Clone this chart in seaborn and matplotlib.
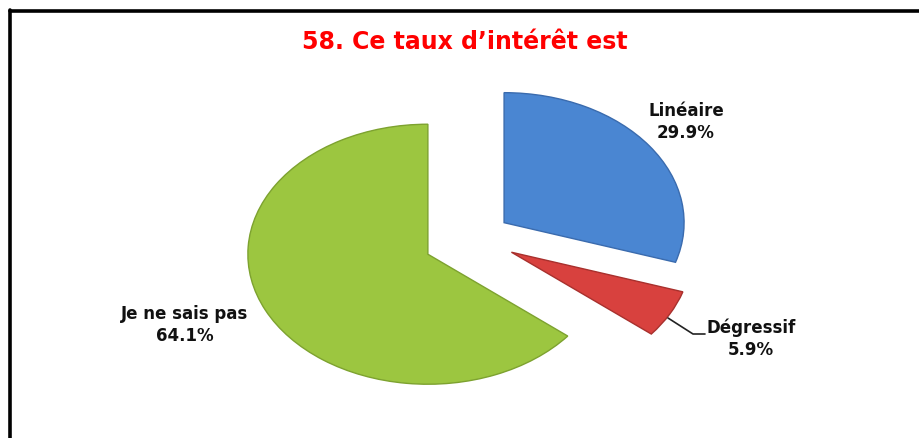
import matplotlib
matplotlib.use("Agg")
import matplotlib.pyplot as plt
import seaborn as sns
import numpy as np

# ---- data ----
categories = ["Linéaire", "Dégressif", "Je ne sais pas"]
values = [29.9, 5.9, 64.1]
colors = ["#4A86D2", "#D8413E", "#9CC640"]
edge_colors = ["#3A6BAE", "#A8302D", "#7DA22F"]
explode = [0.20, 0.23, 0.29]
title = "58. Ce taux d\u2019intérêt est"

sns.set_theme(style="white")
plt.rcParams["font.family"] = ["DejaVu Sans"]

W, H = 919, 438
fig = plt.figure(figsize=(W / 100, H / 100), dpi=100)
fig.patch.set_facecolor("white")

ax = fig.add_axes([0, 0, 1, 1])
wedges, _ = ax.pie(values, colors=colors, explode=explode, startangle=90,
                   counterclock=False, radius=1.0,
                   wedgeprops=dict(linewidth=1.0))
for w, ec in zip(wedges, edge_colors):
    w.set_edgecolor(ec)

# elliptical (tilted) look: 180 px per unit horizontally, 130 px vertically
cx_px, cy_px = 475, 238
sx, sy = 180.0, 130.0
ax.set_aspect("auto")
ax.set_xlim(-cx_px / sx, (W - cx_px) / sx)
ax.set_ylim(-(H - cy_px) / sy, cy_px / sy)
ax.axis("off")

# frame lines (top and left)
fig.add_artist(plt.Line2D([9.5 / W, 1.0], [1 - 11 / H, 1 - 11 / H],
                          transform=fig.transFigure, color="black", lw=2.6))
fig.add_artist(plt.Line2D([10 / W, 10 / W], [0, 1 - 10 / H],
                          transform=fig.transFigure, color="black", lw=2.6))

def fx(px):
    return px / W

def fy(py):
    return 1 - py / H

fig.text(fx(465), fy(42), title, color="#FF0000", fontsize=17,
         fontweight="bold", ha="center", va="center")

lab_kw = dict(fontsize=12, fontweight="bold", color="#111111",
              ha="center", va="center", linespacing=1.3)
fig.text(fx(686), fy(122), f"{categories[0]}\n{values[0]:.1f}%", **lab_kw)
fig.text(fx(751), fy(339), f"{categories[1]}\n{values[1]:.1f}%", **lab_kw)
fig.text(fx(185), fy(325), f"{categories[2]}\n{values[2]:.1f}%", **lab_kw)

# leader line for the small slice
fig.add_artist(plt.Line2D([fx(668), fx(693), fx(705)],
                          [fy(318), fy(334), fy(334)],
                          transform=fig.transFigure, color="#222222", lw=1.2))

fig.savefig("out.png", dpi=100, facecolor="white")
